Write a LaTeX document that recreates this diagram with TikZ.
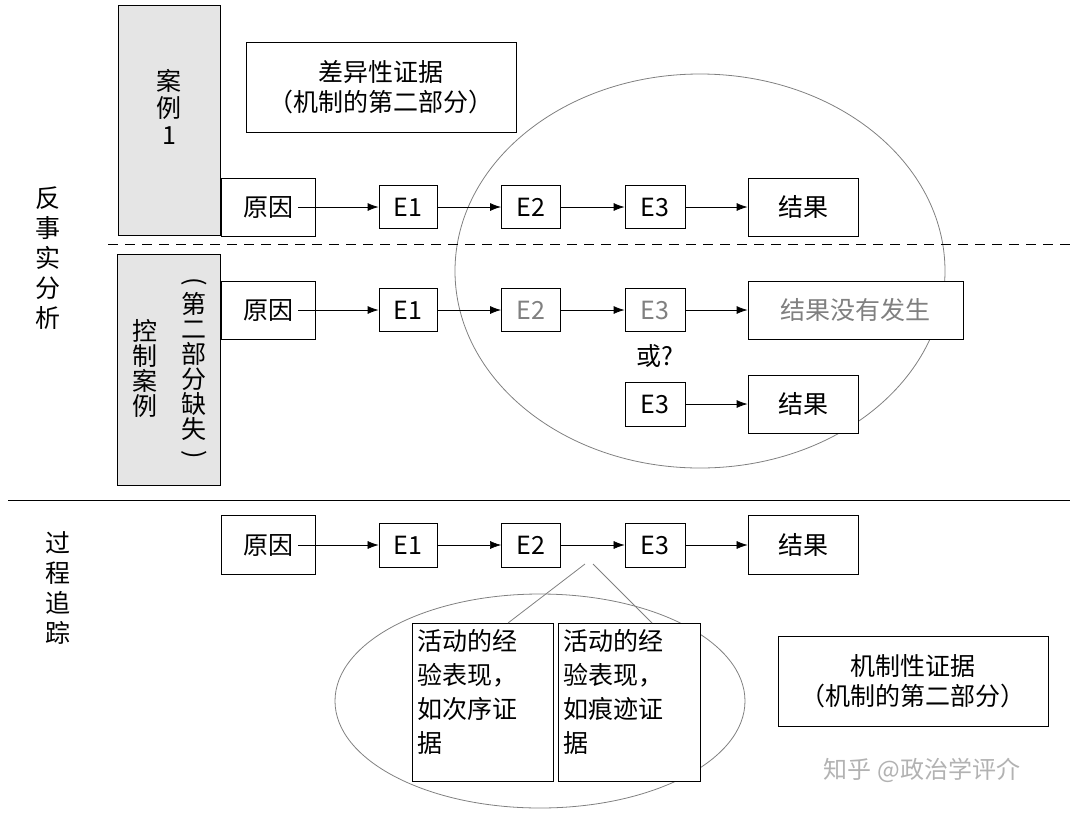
\documentclass[tikz,border=0pt]{standalone}
\usepackage{fontspec}
\setmainfont{Noto Sans CJK SC}
\usetikzlibrary{arrows.meta}
\newcommand{\vparL}{\rotatebox[origin=c]{-90}{(}}
\newcommand{\vparR}{\rotatebox[origin=c]{-90}{)}}
\begin{document}
\begin{tikzpicture}[x=1pt,y=-1pt,
 box/.style={draw,thick,fill=white,inner sep=0pt,font=\fontsize{25}{30}\selectfont},
 grey/.style={draw,thick,fill=gray!20},
 arr/.style={thick,-{Latex[length=11pt,width=8pt]}},
 arrt/.style={semithick,-{Latex[length=11pt,width=8pt]}},
 ell/.style={draw=gray,thick},
 lbl/.style={font=\fontsize{25}{28}\selectfont,align=center}]
\useasboundingbox (0,0) rectangle (1080,815);
% ellipses
\draw[ell] (700,271) ellipse [x radius=245,y radius=197];
\draw[ell] (540,701) ellipse [x radius=205,y radius=107];
% lines
\draw[thick,dashed,dash pattern=on 10pt off 7pt] (108,244) -- (1070,244);
\draw[thick] (8,500) -- (1070,500);
% left labels
\node[lbl] (lab1) at (48,258) {反\\[2pt]事\\[2pt]实\\[2pt]分\\[2pt]析};
\node[lbl] (lab2) at (58,588) {过\\[2pt]程\\[2pt]追\\[2pt]踪};
% grey boxes
\node[grey,minimum width=102pt,minimum height=230pt] (case1) at (169,120) {};
\node[lbl,anchor=north] (case1t) at (169,66) {案\\[-1pt]例\\[-1pt]1};
\node[grey,minimum width=103pt,minimum height=231pt] (ctrl) at (168.5,369.5) {};
\node[lbl] (ctrlA) at (145,368) {控\\[-3pt]制\\[-3pt]案\\[-3pt]例};
\node[lbl] (ctrlB) at (194,370) {\vparL\\[-4pt]第\\[-3pt]二\\[-3pt]部\\[-3pt]分\\[-3pt]缺\\[-3pt]失\\[-4pt]\vparR};
% top evidence box
\node[box,minimum width=270pt,minimum height=90pt,align=center] (ev1) at (381,87) {差异性证据\\（机制的第二部分）};
% row 1
\node[box,minimum width=94pt,minimum height=58pt] (c1) at (268,207) {原因};
\node[box,minimum width=58pt,minimum height=43pt] (a1) at (408,207) {E1};
\node[box,minimum width=59pt,minimum height=43pt] (b1) at (531,207) {E2};
\node[box,minimum width=60pt,minimum height=43pt] (d1) at (655,207) {E3};
\node[box,minimum width=110pt,minimum height=58pt] (r1) at (803,207) {结果};
\draw[arr] (c1.center) ++(30,0) -- (a1.west);
\draw[arr] (a1) -- (b1); \draw[arr] (b1) -- (d1); \draw[arr] (d1) -- (r1.west);
% row 2
\node[box,minimum width=94pt,minimum height=58pt] (c2) at (268,310) {原因};
\node[box,minimum width=58pt,minimum height=43pt] (a2) at (408,310) {E1};
\node[box,minimum width=59pt,minimum height=43pt,text=gray] (b2) at (531,310) {E2};
\node[box,minimum width=60pt,minimum height=43pt,text=gray] (d2) at (655,310) {E3};
\node[box,minimum width=215pt,minimum height=58pt,text=gray] (r2) at (855.5,310) {结果没有发生};
\draw[arr] (c2.center) ++(30,0) -- (a2.west);
\draw[arr] (a2) -- (b2); \draw[arr] (b2) -- (d2); \draw[arr] (d2) -- (r2.west);
\node[lbl] (or) at (655,356) {或?};
\node[box,minimum width=60pt,minimum height=44pt] (d3) at (655,404) {E3};
\node[box,minimum width=110pt,minimum height=58pt] (r3) at (803,404) {结果};
\draw[arr] (d3) -- (r3.west);
% row 3
\node[box,minimum width=94pt,minimum height=59pt] (c4) at (268,545) {原因};
\node[box,minimum width=58pt,minimum height=44pt] (a4) at (408,545) {E1};
\node[box,minimum width=59pt,minimum height=44pt] (b4) at (531,545) {E2};
\node[box,minimum width=60pt,minimum height=44pt] (d4) at (655,545) {E3};
\node[box,minimum width=110pt,minimum height=59pt] (r4) at (803,545) {结果};
\draw[arrt] (c4.center) ++(30,0) -- (a4.west);
\draw[arrt] (a4) -- (b4); \draw[arrt] (b4) -- (d4); \draw[arrt] (d4) -- (r4.west);
% evidence boxes
\coordinate (p1) at (585,564);
\coordinate (p2) at (593,564);
\node[box,minimum width=141pt,minimum height=158pt,anchor=north west,align=left,text width=131pt,inner xsep=5pt] (m1) at (412,623) {\vbox to 150pt{\vskip2pt\baselineskip=34pt 活动的经\\验表现，\\如次序证\\据\vfill}};
\node[box,minimum width=142pt,minimum height=158pt,anchor=north west,align=left,text width=131pt,inner xsep=5pt] (m2) at (558,623) {\vbox to 150pt{\vskip2pt\baselineskip=34pt 活动的经\\验表现，\\如痕迹证\\据\vfill}};
\draw[gray,thick] (p1) -- (m1.north -| 508,0);
\draw[gray,thick] (p2) -- (m2.north -| 652,0);
\node[box,minimum width=270pt,minimum height=90pt,align=center] (ev2) at (913,681) {机制性证据\\（机制的第二部分）};
\node[font=\fontsize{24}{28}\selectfont,text=gray!60] (wm) at (922,770) {知乎 @政治学评介};
\end{tikzpicture}
\end{document}
